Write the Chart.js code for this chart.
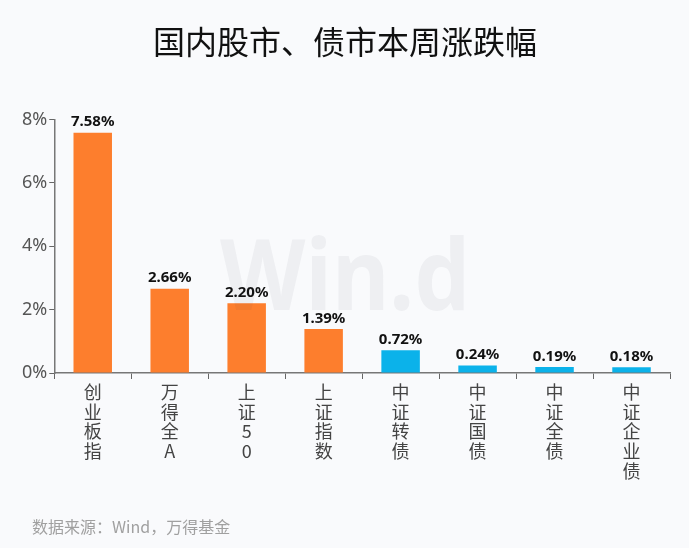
<!DOCTYPE html>
<html>
<head>
<meta charset="utf-8">
<script src="https://cdn.jsdelivr.net/npm/chart.js@4"></script>
<style>
  html, body { margin: 0; padding: 0; background: #f9fafc; }
  #wrap { width: 689px; height: 548px; position: relative; }
</style>
</head>
<body>
<div id="wrap"><canvas id="chart"></canvas></div>
<script>
const categories = ['创业板指', '万得全A', '上证50', '上证指数', '中证转债', '中证国债', '中证全债', '中证企业债']
const weeklyChange = [7.58, 2.66, 2.20, 1.39, 0.72, 0.24, 0.19, 0.18]
const barColors = ['#fd7e2d', '#fd7e2d', '#fd7e2d', '#fd7e2d', '#0bb2ea', '#0bb2ea', '#0bb2ea', '#0bb2ea']
const yTicks = [0, 2, 4, 6, 8]

const CJK = '"Noto Sans CJK SC", "Noto Sans", sans-serif'

// labels drawn above each bar
const valueLabels = {
    id: 'valueLabels',
    afterDatasetsDraw(chart){
        const ctx = chart.ctx
        const meta = chart.getDatasetMeta(0)
        ctx.save()
        ctx.font = 'bold 15px "Noto Sans", sans-serif'
        ctx.fillStyle = '#111'
        ctx.textAlign = 'center'
        ctx.textBaseline = 'bottom'
        meta.data.forEach((bar, i) => {
            ctx.fillText(weeklyChange[i].toFixed(2) + '%', bar.x, bar.y - 3)
        })
        ctx.restore()
    }
}

// faint logo + source line
const decorations = {
    id: 'decorations',
    afterDraw(chart){
        const ctx = chart.ctx
        ctx.save()
        ctx.font = 'bold 98px "Noto Sans", sans-serif'
        ctx.fillStyle = 'rgba(60,60,70,0.055)'
        ctx.textBaseline = 'alphabetic'
        const w = ctx.measureText('Win.d').width
        ctx.translate(220, 310)
        ctx.scale(250 / w, 1)
        ctx.fillText('Win.d', 0, 0)
        ctx.restore()

        ctx.save()
        ctx.font = '16px ' + CJK
        ctx.fillStyle = '#a0a0a0'
        ctx.textBaseline = 'middle'
        ctx.fillText('数据来源：Wind，万得基金', 32, 527)
        ctx.restore()
    }
}

new Chart(document.getElementById('chart'), {
    type: 'bar',
    data: {
        labels: categories.map(c => c.split('')),
        datasets: [{
            data: weeklyChange,
            backgroundColor: barColors,
            categoryPercentage: 0.5,
            barPercentage: 1.0,
        }]
    },
    options: {
        responsive: true,
        maintainAspectRatio: false,
        animation: false,
        layout: { padding: { left: 20, right: 19, top: 0, bottom: 64 } },
        plugins: {
            legend: { display: false },
            tooltip: { enabled: false },
            title: {
                display: true,
                text: '国内股市、债市本周涨跌幅',
                color: '#111',
                font: { family: CJK, size: 32, weight: 'normal' },
                padding: { top: 23, bottom: 58 },
            },
        },
        scales: {
            x: {
                grid: { display: true, drawOnChartArea: false, color: '#666', tickLength: 6, offset: true },
                border: { color: '#777', width: 1.5 },
                ticks: {
                    color: '#444',
                    font: { family: CJK, size: 18, lineHeight: 1.1 },
                    maxRotation: 0,
                    padding: 3,
                },
            },
            y: {
                min: 0,
                max: 8,
                afterBuildTicks(axis){ axis.ticks = yTicks.map(v => ({ value: v })) },
                grid: { display: true, drawOnChartArea: false, color: '#666', tickLength: 5 },
                border: { color: '#777', width: 1.5 },
                ticks: {
                    color: '#555',
                    font: { family: '"Noto Sans", sans-serif', size: 18 },
                    padding: 2,
                    callback: v => v + '%',
                },
            },
        },
    },
    plugins: [valueLabels, decorations],
})
</script>
</body>
</html>
